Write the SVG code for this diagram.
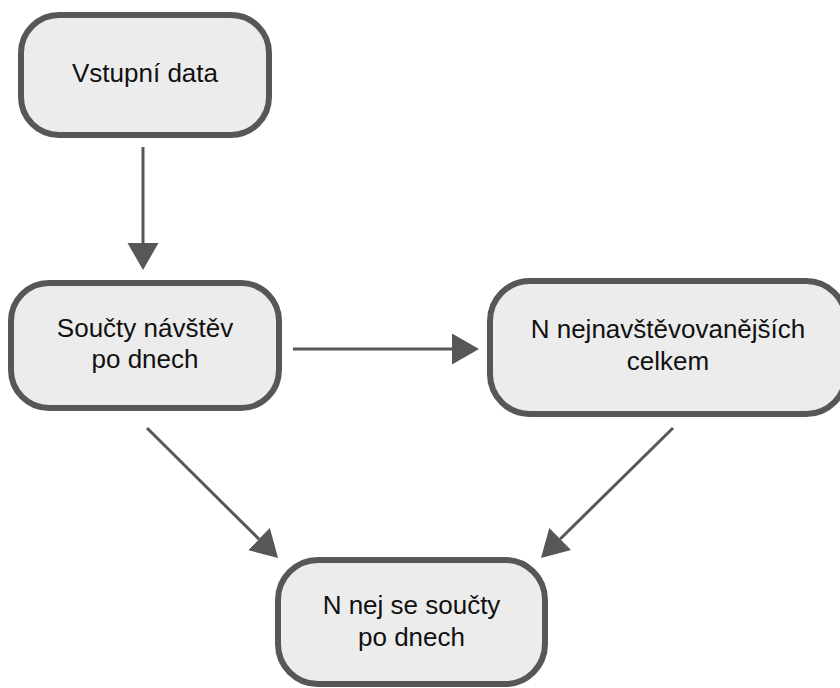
<svg xmlns="http://www.w3.org/2000/svg" width="840" height="688" viewBox="0 0 840 688">
  <style>
    .box { fill: #ececec; stroke: #575757; stroke-width: 6; }
    .label { font-family: "Liberation Sans", Arial, sans-serif; font-size: 26px; fill: #111111; text-anchor: middle; }
    .edge { stroke: #575757; stroke-width: 3; fill: none; marker-end: url(#head); }
  </style>
  <defs>
    <marker id="head" markerUnits="userSpaceOnUse" markerWidth="28" markerHeight="32" refX="0" refY="15.5" orient="auto">
      <path d="M0,0 L27,15.5 L0,31 Z" fill="#575757"/>
    </marker>
  </defs>
  <rect width="840" height="688" fill="#ffffff"/>

  <g id="connectors">
    <line class="edge" x1="143" y1="147" x2="143" y2="243"/>
    <line class="edge" x1="293" y1="349" x2="452" y2="349"/>
    <line class="edge" x1="147" y1="428" x2="258.9" y2="539.1"/>
    <line class="edge" x1="673" y1="428" x2="560.2" y2="539"/>
  </g>

  <g id="vstupni-data">
    <rect class="box" x="21" y="15" width="248" height="120" rx="38" ry="38"/>
    <text class="label" x="145" y="82">Vstupní data</text>
  </g>

  <g id="soucty-po-dnech">
    <rect class="box" x="11" y="283" width="268" height="125" rx="38" ry="38"/>
    <text class="label" x="145" y="337">Součty návštěv</text>
    <text class="label" x="145" y="368">po dnech</text>
  </g>

  <g id="n-nejnavstevovanejsich">
    <rect class="box" x="490" y="281" width="356" height="133" rx="40" ry="40"/>
    <text class="label" x="668" y="338">N nejnavštěvovanějších</text>
    <text class="label" x="668" y="370">celkem</text>
  </g>

  <g id="n-nej-se-soucty">
    <rect class="box" x="278" y="560" width="267" height="124" rx="40" ry="40"/>
    <text class="label" x="411.5" y="614">N nej se součty</text>
    <text class="label" x="411.5" y="646">po dnech</text>
  </g>
</svg>
